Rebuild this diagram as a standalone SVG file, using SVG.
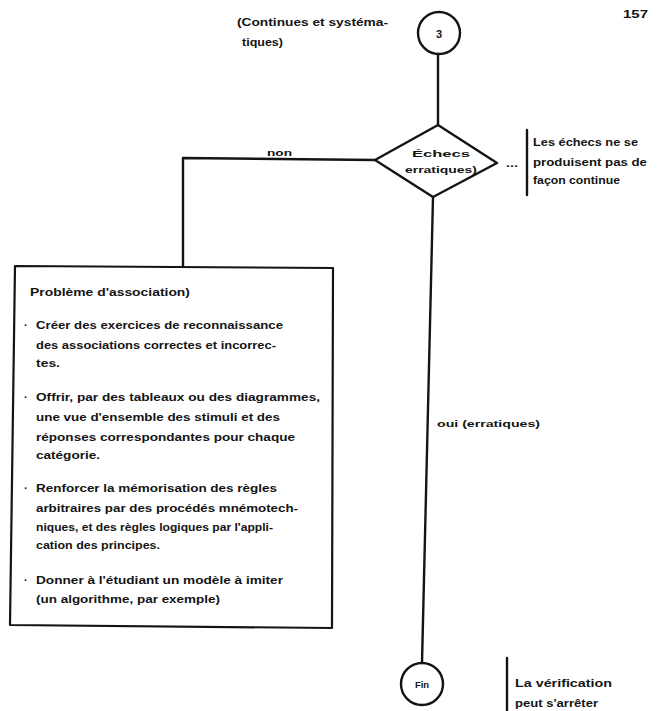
<svg xmlns="http://www.w3.org/2000/svg" width="658" height="711" viewBox="0 0 658 711">
  <style>
    .t { font-family: "Liberation Sans", Arial, sans-serif; font-weight: bold; font-size: 11px; fill: #141414; }
    .s { font-size: 9.5px; }
    .ln { fill: none; stroke: #141414; stroke-width: 2.4; stroke-linecap: round; stroke-linejoin: round; }
    .bx { fill: #ffffff; stroke: #141414; stroke-width: 2.2; stroke-linejoin: round; }
  </style>
  <rect width="658" height="711" fill="#ffffff"/>

  <!-- page number -->
  <text class="t" x="623" y="18" textLength="25" lengthAdjust="spacingAndGlyphs">157</text>

  <!-- connectors -->
  <g id="connectors">
    <line class="ln" x1="438" y1="54" x2="438" y2="125"/>
    <polyline class="ln" points="375,160 183,158 183,266"/>
    <line class="ln" x1="433" y1="197" x2="422" y2="663"/>
    <text class="t s" x="267" y="156" textLength="25" lengthAdjust="spacingAndGlyphs">non</text>
    <text class="t s" x="437" y="427" textLength="103" lengthAdjust="spacingAndGlyphs">oui (erratiques)</text>
  </g>

  <!-- connector 3 -->
  <g id="node-3">
    <circle class="ln" cx="439" cy="33" r="21"/>
    <text class="t" x="439" y="38" text-anchor="middle">3</text>
    <text class="t" x="237" y="26" textLength="151" lengthAdjust="spacingAndGlyphs">(Continues et systéma-</text>
    <text class="t" x="242" y="46" textLength="41" lengthAdjust="spacingAndGlyphs">tiques)</text>
  </g>

  <!-- decision -->
  <g id="node-decision">
    <polygon class="ln" points="438,125 497,163 433,197 375,160"/>
    <text class="t s" x="412" y="157" textLength="58" lengthAdjust="spacingAndGlyphs">Échecs</text>
    <text class="t s" x="405" y="173" textLength="72" lengthAdjust="spacingAndGlyphs">erratiques)</text>
    <text class="t" x="506" y="167" textLength="12" lengthAdjust="spacingAndGlyphs">...</text>
    <line class="ln" x1="527" y1="130" x2="527" y2="195" stroke-width="2"/>
    <text class="t" x="533" y="146" textLength="105" lengthAdjust="spacingAndGlyphs">Les échecs ne se</text>
    <text class="t" x="533" y="166" textLength="114" lengthAdjust="spacingAndGlyphs">produisent pas de</text>
    <text class="t" x="533" y="184" textLength="87" lengthAdjust="spacingAndGlyphs">façon continue</text>
  </g>

  <!-- remedial actions -->
  <g id="node-association">
    <polygon class="bx" points="15,266 333,268 332,628 10,625"/>
    <text class="t" x="30" y="296" textLength="160" lengthAdjust="spacingAndGlyphs">Problème d'association)</text>

    <text class="t" x="24" y="329">·</text>
    <text class="t" x="36" y="329" textLength="247" lengthAdjust="spacingAndGlyphs">Créer des exercices de reconnaissance</text>
    <text class="t" x="36" y="349" textLength="240" lengthAdjust="spacingAndGlyphs">des associations correctes et incorrec-</text>
    <text class="t" x="36" y="367" textLength="24" lengthAdjust="spacingAndGlyphs">tes.</text>

    <text class="t" x="24" y="401">·</text>
    <text class="t" x="36" y="401" textLength="284" lengthAdjust="spacingAndGlyphs">Offrir, par des tableaux ou des diagrammes,</text>
    <text class="t" x="36" y="421" textLength="244" lengthAdjust="spacingAndGlyphs">une vue d'ensemble des stimuli et des</text>
    <text class="t" x="36" y="441" textLength="259" lengthAdjust="spacingAndGlyphs">réponses correspondantes pour chaque</text>
    <text class="t" x="36" y="459" textLength="64" lengthAdjust="spacingAndGlyphs">catégorie.</text>

    <text class="t" x="24" y="492">·</text>
    <text class="t" x="36" y="492" textLength="241" lengthAdjust="spacingAndGlyphs">Renforcer la mémorisation des règles</text>
    <text class="t" x="36" y="512" textLength="262" lengthAdjust="spacingAndGlyphs">arbitraires par des procédés mnémotech-</text>
    <text class="t" x="36" y="531" textLength="237" lengthAdjust="spacingAndGlyphs">niques, et des règles logiques par l'appli-</text>
    <text class="t" x="36" y="549" textLength="124" lengthAdjust="spacingAndGlyphs">cation des principes.</text>

    <text class="t" x="24" y="584">·</text>
    <text class="t" x="36" y="584" textLength="247" lengthAdjust="spacingAndGlyphs">Donner à l'étudiant un modèle à imiter</text>
    <text class="t" x="36" y="603" textLength="184" lengthAdjust="spacingAndGlyphs">(un algorithme, par exemple)</text>
  </g>

  <!-- end -->
  <g id="node-fin">
    <circle class="ln" cx="422" cy="684" r="21"/>
    <text class="t s" x="422" y="688" text-anchor="middle">Fin</text>
    <line class="ln" x1="507" y1="658" x2="507" y2="711" stroke-width="2"/>
    <text class="t" x="515" y="687" textLength="97" lengthAdjust="spacingAndGlyphs">La vérification</text>
    <text class="t" x="515" y="707" textLength="83" lengthAdjust="spacingAndGlyphs">peut s'arrêter</text>
  </g>
</svg>
